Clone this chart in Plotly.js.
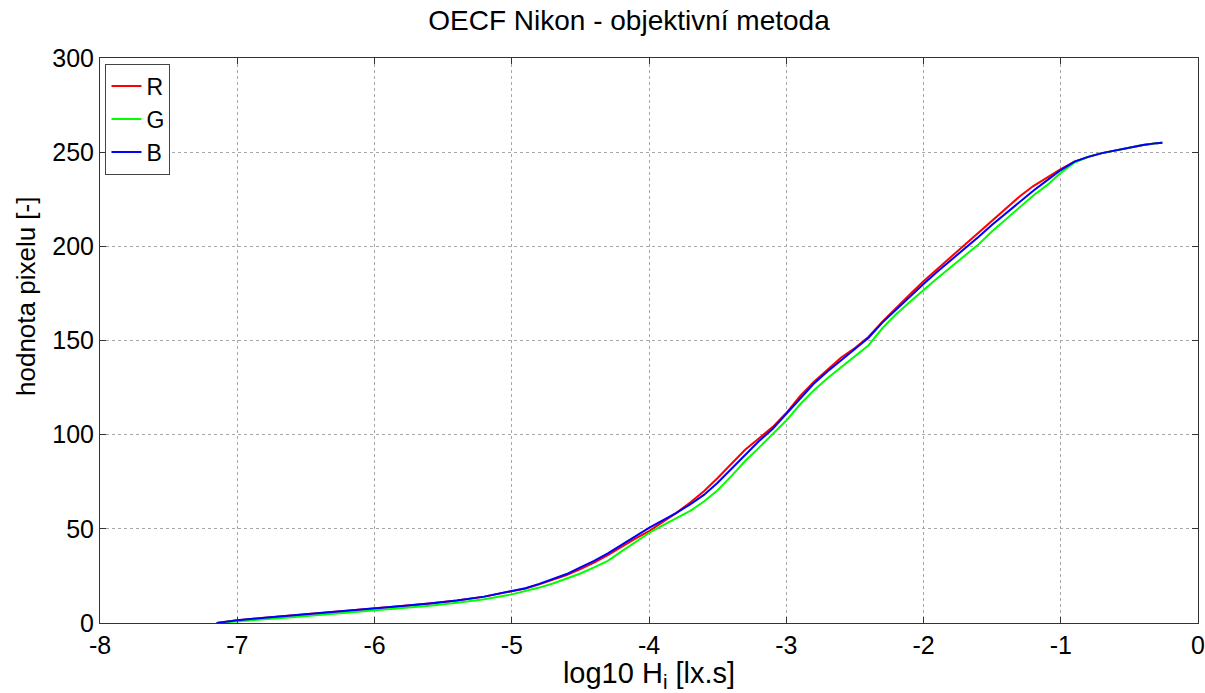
<!DOCTYPE html>
<html>
<head>
<meta charset="utf-8">
<script src="https://cdn.plot.ly/plotly-3.0.1.min.js"></script>
<style>html,body{margin:0;padding:0;background:#fff;}#chart{width:1205px;height:693px;}</style>
</head>
<body>
<div id="chart"></div>
<script>
const logH = [-7.15,-7.0,-6.8,-6.6,-6.4,-6.2,-6.0,-5.8,-5.6,-5.4,-5.2,-5.0,-4.9,-4.8,-4.7,-4.6,-4.5,-4.4,-4.3,-4.2,-4.1,-4.0,-3.9,-3.8,-3.7,-3.6,-3.5,-3.4,-3.3,-3.2,-3.1,-3.0,-2.9,-2.8,-2.7,-2.6,-2.5,-2.4,-2.3,-2.2,-2.1,-2.0,-1.9,-1.8,-1.7,-1.6,-1.5,-1.4,-1.3,-1.2,-1.1,-1.0,-0.9,-0.8,-0.7,-0.6,-0.5,-0.4,-0.3,-0.26];

const valB = [0,1.5,2.8,4,5.2,6.4,7.8,9,10.4,12,14,16.8,18.5,20.8,23.3,26,29.5,33,37,41.5,46,50.5,54.5,58.5,63,68,74.5,82,89.5,96.5,103,111,119.5,127,133.5,139.5,145,151.5,159.5,166.5,173,180,186.5,192.5,198.5,205,211.5,217.5,224,229.5,235,240.5,245,247.5,249.5,251,252.5,253.8,254.8,255];

const valR = [0,1.5,2.8,4,5.2,6.4,7.8,9,10.4,12,14,16.6,18.3,20.5,22.8,25.4,28.6,32,36,40.5,44.8,48.8,53.5,58.5,64,70,77,84.5,92,98,104,111.5,120.5,128,134.5,141,146,152,160,167.5,174.5,181.5,188,194.5,201,207.5,214,220,226.5,232,236.5,241,245,247.5,249.5,251,252.5,253.8,254.8,255];

const valG = [0,1,2,3,4.2,5.4,6.6,7.8,9.2,10.7,12.6,15.2,16.8,18.8,21,23.5,26.3,29.5,33,38,43,47.8,51.8,55.5,59.5,64.5,70.5,78,86,93,100,107.5,116,123.5,130,136,141.5,147.5,156.5,164,170.5,177,183,189,195,201,208,214.5,221,227,232.5,239,244.5,247.5,249.5,251,252.5,253.8,254.8,255];

const xTicks = [-8,-7,-6,-5,-4,-3,-2,-1,0];
const yTicks = [0,50,100,150,200,250,300];

const font = 'Liberation Sans, Arial, Helvetica, sans-serif';

const traces = [
  {x: logH, y: valR, name: 'R', mode: 'lines', line: {color: '#ff0000', width: 2}},
  {x: logH, y: valG, name: 'G', mode: 'lines', line: {color: '#00ff00', width: 2}},
  {x: logH, y: valB, name: 'B', mode: 'lines', line: {color: '#0000ff', width: 2}}
];

const axisCommon = {
  showline: true, linecolor: '#333', linewidth: 1, mirror: 'ticks',
  ticks: 'inside', ticklen: 6, tickcolor: '#333',
  showgrid: true, gridcolor: '#a8a8a8', griddash: 'dot', gridwidth: 1,
  zeroline: false, tickfont: {family: font, size: 25, color: '#000'}
};

const layout = {
  width: 1205, height: 693,
  margin: {l: 100, r: 7, t: 58, b: 70},
  paper_bgcolor: '#fff', plot_bgcolor: '#fff',
  title: {text: 'OECF Nikon - objektivní metoda', font: {family: font, size: 28, color: '#000'}, x: 0.522, xanchor: 'center', y: 0.985, yanchor: 'top'},
  xaxis: Object.assign({}, axisCommon, {
    range: [-8, 0], tickvals: xTicks, ticktext: xTicks.map(String),
    title: {text: 'log10 H<sub>i</sub> [lx.s]', font: {family: font, size: 29, color: '#000'}, standoff: 0}
  }),
  yaxis: Object.assign({}, axisCommon, {
    range: [0, 300], tickvals: yTicks, ticktext: yTicks.map(String)
  }),
  annotations: [{
    text: 'hodnota pixelu [-]', textangle: -90, showarrow: false,
    xref: 'paper', yref: 'paper', x: -74 / 1098, y: (623 - 297) / 565,
    xanchor: 'center', yanchor: 'middle',
    font: {family: font, size: 26, color: '#000'}
  }],
  legend: {
    x: 0.005, y: 0.99, xanchor: 'left', yanchor: 'top',
    bgcolor: '#fff', bordercolor: '#444', borderwidth: 1,
    font: {family: font, size: 23, color: '#000'}, tracegroupgap: 0
  },
  showlegend: true
};

Plotly.newPlot('chart', traces, layout, {displayModeBar: false, staticPlot: true});
</script>
</body>
</html>
